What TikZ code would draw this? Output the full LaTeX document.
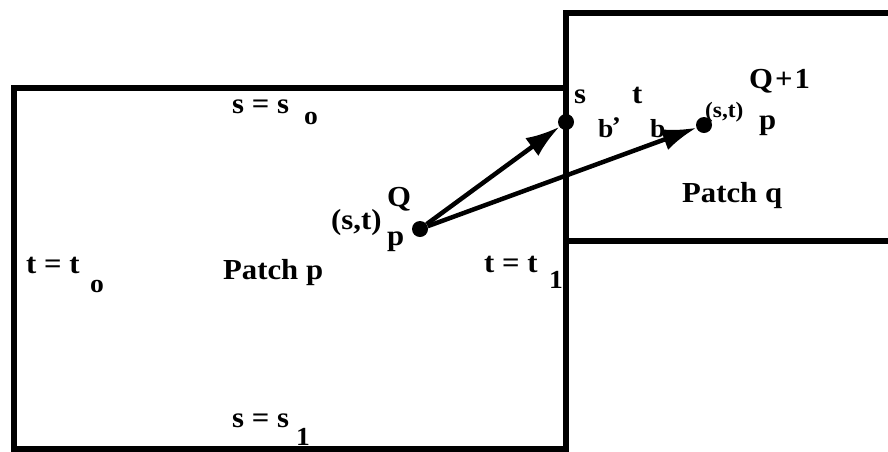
\documentclass[tikz,border=0pt]{standalone}
\usepackage{fontspec}
\setmainfont{Liberation Serif}
\newfontfamily\lblfont{Liberation Serif}[UprightFont={* Bold},FakeStretch=1.06]
\usetikzlibrary{arrows.meta}
\begin{document}
\begin{tikzpicture}[x=1pt,y=-1pt,
  edge/.style={line width=5.5pt,line cap=rect},
  lbl/.style={anchor=base west,inner sep=0pt,font=\lblfont\fontsize{29}{29}\selectfont},
  sub/.style={anchor=base west,inner sep=0pt,font=\lblfont\fontsize{26}{26}\selectfont},
  dotnode/.style={circle,fill=black,inner sep=0pt,minimum size=16pt},
  arr/.style={line width=4.5pt,-{Latex[length=34pt,width=22pt]}}]
\useasboundingbox (0,0) rectangle (888,451);
% Patch p
\draw[edge] (14,88) rectangle (566,449);
% Patch q (open on the right)
\draw[edge] (892,13) -- (566,13) -- (566,241) -- (892,241);
% dots
\node[dotnode] (d1) at (420,229) {};
\node[dotnode] (d2) at (566,122) {};
\node[dotnode] (d3) at (704,125) {};
% arrows
\draw[arr] (d1) -- (d2);
\draw[arr] (d1) -- (d3);
% labels
\node[lbl] (sso) at (232,113) {s = s};
\node[sub] (sso2) at (304,124) {o};
\node[lbl] (tto) at (26,273) {t = t};
\node[sub] (tto2) at (90,292) {o};
\node[lbl] (tt1) at (484,272) {t = t};
\node[sub] (tt12) at (549,288) {1};
\node[lbl] (ss1) at (232,427) {s = s};
\node[sub] (ss12) at (296,445) {1};
\node[lbl] (pp) at (223,279) {Patch p};
\node[lbl] (pq) at (682,202) {Patch q};
\node[lbl] (st1) at (331,229) {(s,t)};
\node[lbl] (q1) at (387,206) {Q};
\node[lbl] (p1) at (387,245) {p};
\node[lbl] (sb) at (574,103) {s};
\node[sub] (sb2) at (598,137) {b};
\node[sub] (cm) at (613,121) {,};
\node[lbl] (tb) at (632,103) {t};
\node[sub] (tb2) at (650,137) {b};
\node[lbl,font=\lblfont\fontsize{22}{22}\selectfont] (st2) at (705,117) {(s,t)};
\node[lbl] (q2) at (749,88) {Q\kern2pt+\kern2pt1};
\node[lbl] (p2) at (759,129) {p};
\end{tikzpicture}
\end{document}
